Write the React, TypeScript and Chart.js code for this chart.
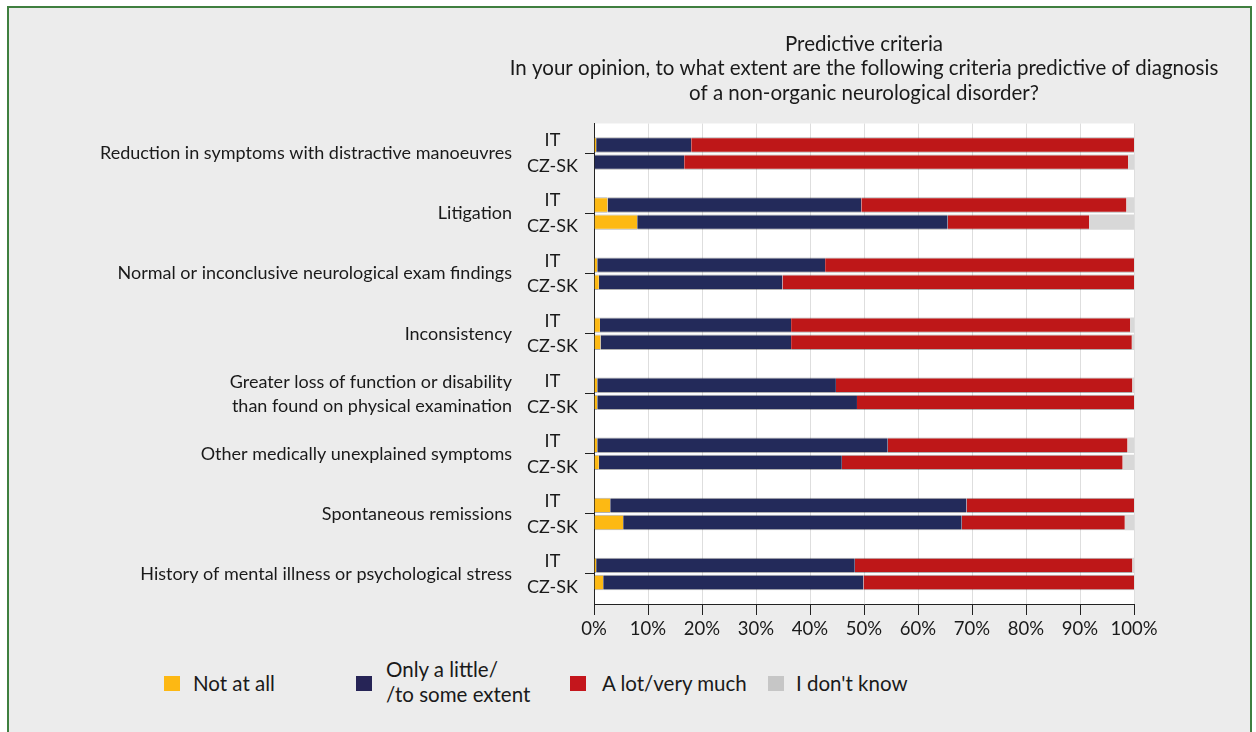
import React, { useEffect, useRef } from "react";
import { Chart, registerables } from "chart.js";

Chart.register(...registerables);

const categories: (string | string[])[] = [
  "Reduction in symptoms with distractive manoeuvres",
  "Litigation",
  "Normal or inconclusive neurological exam findings",
  "Inconsistency",
  ["Greater loss of function or disability", "than found on physical examination"],
  "Other medically unexplained symptoms",
  "Spontaneous remissions",
  "History of mental illness or psychological stress",
];
const countries = ["IT", "CZ-SK"];
const seriesNames = ["Not at all", "Only a little/ /to some extent", "A lot/very much", "I don't know"];
const xTickValues = [0, 10, 20, 30, 40, 50, 60, 70, 80, 90, 100];
const titleLines = [
  "Predictive criteria",
  "In your opinion, to what extent are the following criteria predictive of diagnosis",
  "of a non-organic neurological disorder?",
];

const itNotAtAll = [0.4, 2.5, 0.6, 1.1, 0.6, 0.6, 3.0, 0.4];
const itLittle = [17.6, 47.0, 42.2, 35.4, 44.2, 53.8, 66.0, 47.9];
const itLot = [82.0, 49.1, 57.2, 62.8, 54.9, 44.4, 31.0, 51.4];
const itDontKnow = [0, 1.4, 0, 0.7, 0.3, 1.2, 0, 0.3];

const czNotAtAll = [0, 8.0, 0.9, 1.2, 0.6, 0.9, 5.4, 1.7];
const czLittle = [16.7, 57.5, 34.0, 35.3, 48.1, 45.0, 62.7, 48.2];
const czLot = [82.2, 26.2, 65.1, 63.1, 51.3, 52.0, 30.2, 50.1];
const czDontKnow = [1.1, 8.3, 0, 0.4, 0, 2.1, 1.7, 0];

const barColors = ["#FDB913", "#232A5A", "#BE1718", "#D8D8D8"];
const legendColors = ["#FDB813", "#262456", "#C4161C", "#C6C6C6"];
const FONT = "Lato";
const TEXT = "#1a1a1a";
const CANVAS_W = 1710;
const CANVAS_H = 636;

const plotBg = {
  id: "plotBg",
  beforeDraw(chart: any) {
    const { ctx, chartArea } = chart;
    if (!chartArea) return;
    ctx.save();
    ctx.fillStyle = "#ffffff";
    ctx.fillRect(chartArea.left, chartArea.top, chartArea.right - chartArea.left, chartArea.bottom - chartArea.top);
    ctx.restore();
  },
};

export default function App() {
  const canvasRef = useRef<HTMLCanvasElement | null>(null);

  useEffect(() => {
    document.documentElement.style.overflow = "hidden";
    const canvas = canvasRef.current;
    if (!canvas) return;

    const itSeries = [itNotAtAll, itLittle, itLot, itDontKnow];
    const czSeries = [czNotAtAll, czLittle, czLot, czDontKnow];
    const mk = (data: number[], i: number, stack: string) => ({
      label: `${seriesNames[i]} (${stack})`,
      data,
      stack,
      backgroundColor: barColors[i],
      borderColor: "rgba(30,30,30,0.35)",
      borderWidth: i === 3 ? 0 : { top: 1, bottom: 1, left: 0, right: 0 },
      borderSkipped: false,
      categoryPercentage: 0.57,
      barPercentage: 0.9,
    });
    const datasets = [
      ...itSeries.map((d, i) => mk(d, i, countries[0])),
      ...czSeries.map((d, i) => mk(d, i, countries[1])),
    ];

    const chart = new Chart(canvas, {
      type: "bar",
      data: {
        labels: categories.map((_, i) => String(i)),
        datasets: datasets as any,
      },
      plugins: [plotBg],
      options: {
        indexAxis: "y",
        animation: false,
        responsive: false,
        devicePixelRatio: 1,
        layout: { padding: { left: 0, right: 0, top: 0, bottom: 0 } },
        plugins: {
          legend: { display: false },
          tooltip: { enabled: false },
          title: {
            display: true,
            text: titleLines,
            fullSize: true,
            align: "center",
            color: TEXT,
            font: { family: FONT, size: 20.5, weight: "normal", lineHeight: 1.195 },
            padding: { top: 24, bottom: 18 },
          },
        },
        scales: {
          x: {
            type: "linear",
            stacked: true,
            min: 0,
            max: 100,
            afterBuildTicks: (scale: any) => {
              scale.ticks = xTickValues.map((v) => ({ value: v }));
            },
            afterFit: (scale: any) => {
              scale.height = 40;
            },
            ticks: {
              color: TEXT,
              font: { family: FONT, size: 18.5 },
              padding: 3,
              maxRotation: 0,
              callback: (v: any) => `${v}%`,
            },
            grid: {
              color: "#dedede",
              lineWidth: 1,
              drawTicks: true,
              tickLength: 11,
              tickColor: "#222222",
            },
            border: { display: true, color: "#222222", width: 1 },
          },
          y: {
            type: "category",
            stacked: true,
            offset: true,
            weight: 0,
            afterFit: (scale: any) => {
              scale.width = 68;
            },
            ticks: {
              color: TEXT,
              font: { family: FONT, size: 18, lineHeight: 1.44 },
              crossAlign: "center",
              padding: 7,
              callback: () => countries,
            },
            grid: {
              drawOnChartArea: false,
              drawTicks: true,
              tickLength: 9,
              tickColor: "#222222",
              offset: false,
            },
            border: { display: true, color: "#222222", width: 1 },
          },
          y2: {
            type: "category",
            position: "left",
            labels: categories as any,
            offset: true,
            weight: 1,
            afterFit: (scale: any) => {
              scale.width = 517;
            },
            ticks: {
              color: TEXT,
              font: { family: FONT, size: 18, lineHeight: 1.33 },
              crossAlign: "near",
              padding: 14,
            },
            grid: { display: false, drawTicks: false },
            border: { display: false },
          },
          yR: {
            type: "category",
            position: "right",
            labels: categories as any,
            offset: true,
            afterFit: (scale: any) => {
              scale.width = 585;
            },
            ticks: { display: false },
            grid: { display: false, drawTicks: false },
            border: { display: false },
          },
        } as any,
      },
    });
    return () => chart.destroy();
  }, []);

  const sq = (left: number, color: string) => (
    <div style={{ position: "absolute", left, top: 668, width: 16, height: 15, background: color }} />
  );
  const txt = (left: number, top: number, content: React.ReactNode) => (
    <div style={{ position: "absolute", left, top, fontSize: 20.5, lineHeight: "25px", whiteSpace: "nowrap" }}>{content}</div>
  );

  return (
    <div
      style={{
        position: "absolute",
        left: 7,
        top: 6,
        width: 1245,
        height: 726,
        boxSizing: "border-box",
        border: "2px solid #3f7f3f",
        borderBottom: "none",
        background: "#ECECEC",
        fontFamily: FONT,
        color: TEXT,
        overflow: "hidden",
      }}
    >
      <canvas
        ref={canvasRef}
        width={CANVAS_W}
        height={CANVAS_H}
        style={{ position: "absolute", left: 0, top: 0, width: CANVAS_W, height: CANVAS_H }}
      />
      {sq(155, legendColors[0])}
      {txt(184, 662.5, seriesNames[0])}
      {sq(347, legendColors[1])}
      {txt(377, 648.5, (
        <>
          Only a little/
          <br />
          /to some extent
        </>
      ))}
      {sq(561, legendColors[2])}
      {txt(593, 662.5, seriesNames[2])}
      {sq(759, legendColors[3])}
      {txt(787, 662.5, seriesNames[3])}
    </div>
  );
}
